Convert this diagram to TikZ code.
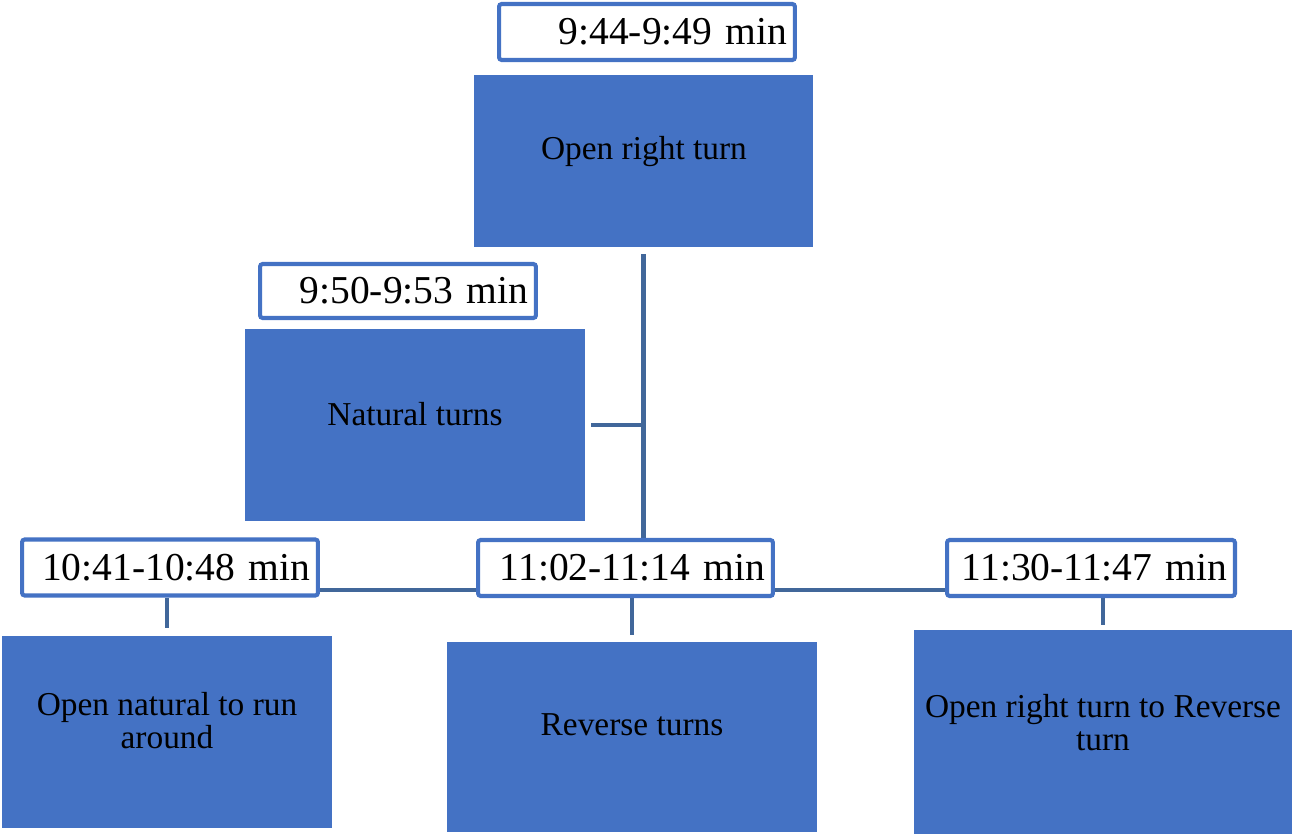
\documentclass[tikz,border=0pt]{standalone}
\usepackage{fontspec}
\setmainfont{Liberation Serif}
\usetikzlibrary{backgrounds}
\definecolor{boxblue}{HTML}{4472C4}
\definecolor{linkblue}{HTML}{41679A}
\newcommand{\timefont}{\fontsize{22.5}{27}\selectfont}
\newcommand{\stepfont}{\fontsize{19}{18.7}\selectfont}

\begin{document}
\begin{tikzpicture}[x=0.02cm,y=-0.02cm,
  stepbox/.style={fill=boxblue, draw=none, inner sep=0pt},
  steptext/.style={font=\stepfont, align=center, text=black, inner sep=0pt},
  timebox/.style={draw=boxblue, fill=white, line width=2.3pt, rounded corners=1.5pt,
    minimum height=1.12cm, inner xsep=0.16cm, inner ysep=0pt, align=right, font=\timefont},
  link/.style={draw=linkblue, line width=2.6pt}]
\useasboundingbox (0,0) rectangle (1292,834);

% step boxes
\node[stepbox, minimum width=6.78cm, minimum height=3.44cm] (top) at (643.5,161) {};
\node[steptext] (topT) at (644,152) {Open right turn};
\node[stepbox, minimum width=6.8cm, minimum height=3.84cm] (nat) at (415,425) {};
\node[steptext] (natT) at (415,414) {Natural turns};
\node[stepbox, minimum width=6.6cm, minimum height=3.84cm] (A) at (167,732) {};
\node[steptext] (AT) at (167,721) {Open natural to run\\around};
\node[stepbox, minimum width=7.4cm, minimum height=3.8cm] (B) at (632,737) {};
\node[steptext] (BT) at (632,725) {Reverse turns};
\node[stepbox, minimum width=7.56cm, minimum height=4.08cm] (C) at (1103,732) {};
\node[steptext] (CT) at (1103,723) {Open right turn to Reverse\\turn};

% time stamps
\node[timebox, text width=5.6cm] (tTop) at (647,32) {9:44-9:49 min};
\node[timebox, text width=5.2cm, minimum height=1.08cm] (tNat) at (398,291) {9:50-9:53 min};
\node[timebox, text width=5.6cm] (tA) at (170,567.5) {10:41-10:48 min};
\node[timebox, text width=5.58cm] (tB) at (625.5,568) {11:02-11:14 min};
\node[timebox, text width=5.44cm] (tC) at (1091,568) {11:30-11:47 min};

\coordinate (bus) at (0,590);

% connectors
\begin{scope}[on background layer]
  \draw[link] ([yshift=-0.14cm]top.south) -- (top.south |- tB.center);
  \draw[link] ([xshift=0.12cm]nat.east) -- (nat.east -| top.south);
  \draw[link] (tA.east |- bus) -- (tC.west |- bus);
  \draw[link] ([yshift=0.16cm]A.north) -- (A.north |- tA.south);
  \draw[link] ([yshift=0.14cm]B.north) -- (B.north |- tB.south);
  \draw[link] ([yshift=0.1cm]C.north) -- (C.north |- tC.south);
\end{scope}
\end{tikzpicture}
\end{document}
